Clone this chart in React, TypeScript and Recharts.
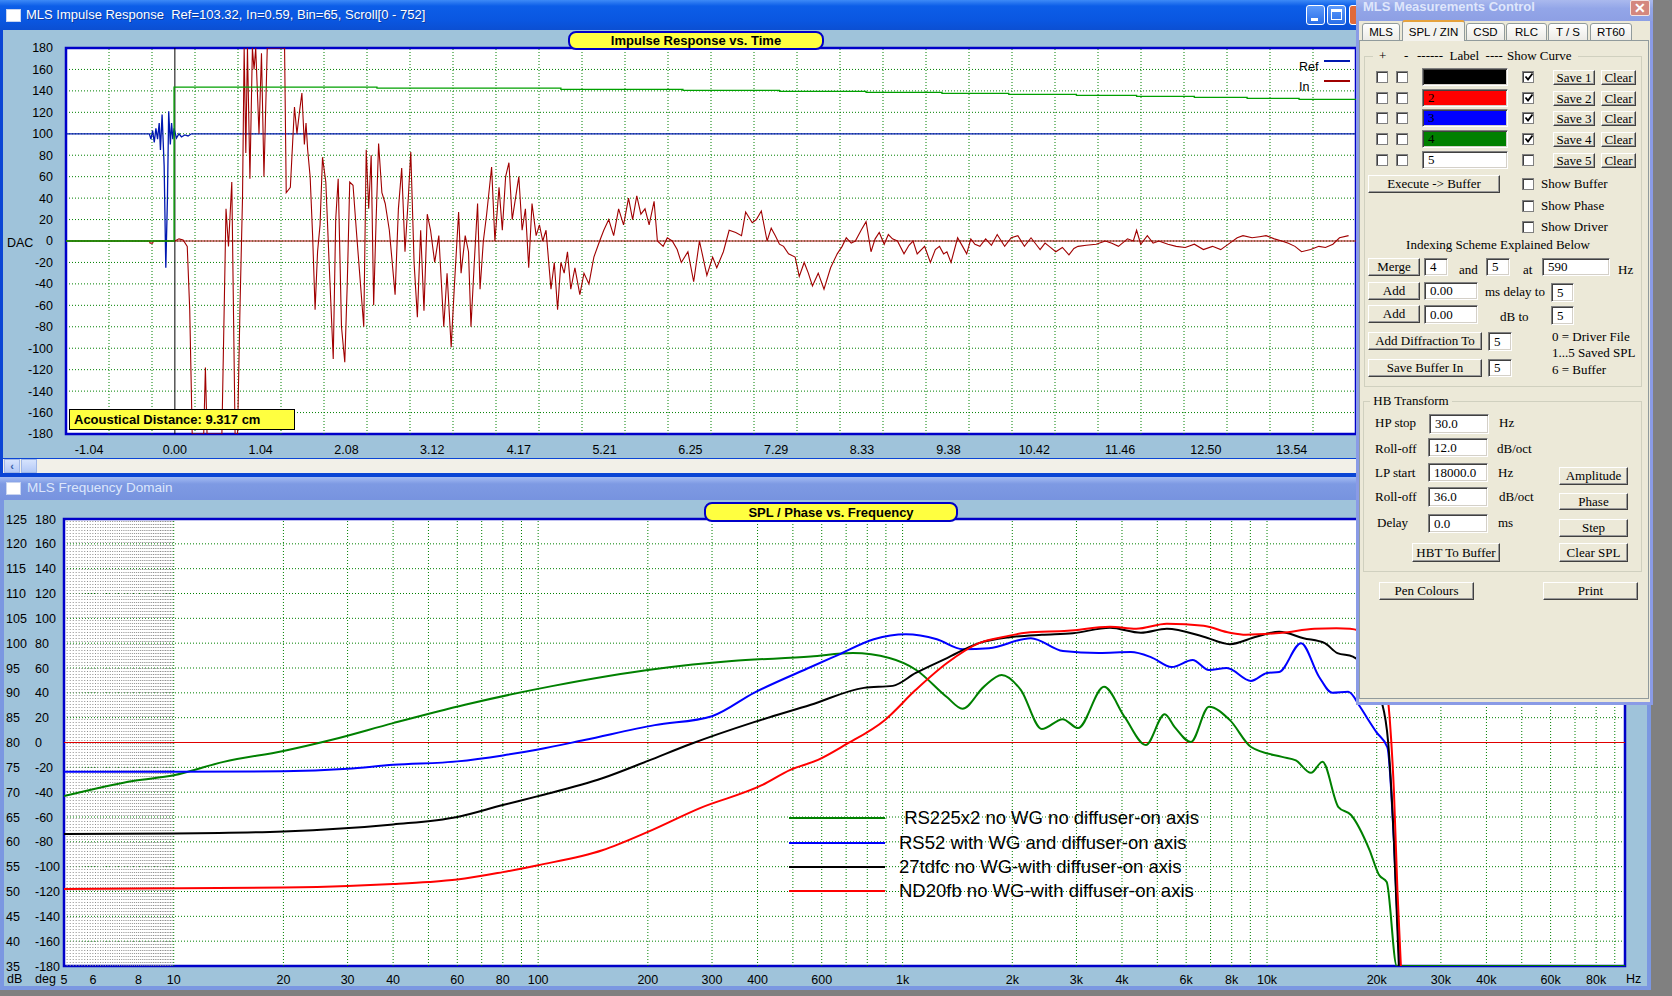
import React from 'react';
import { LineChart, Line, XAxis, YAxis, CartesianGrid, ReferenceLine, ReferenceArea, Legend } from 'recharts';

// ---------- impulse response window ----------
const timeTicks = [-1.04, 0, 1.04, 2.08, 3.12, 4.17, 5.21, 6.25, 7.29, 8.33, 9.38, 10.42, 11.46, 12.5, 13.54];
const dacTicks = [180, 160, 140, 120, 100, 80, 60, 40, 20, 0, -20, -40, -60, -80, -100, -120, -140, -160, -180];

// Ref trace (blue)
const refTrace = [
  [-1.32, 100], [-0.31, 100], [-0.29, 95], [-0.27, 103], [-0.25, 92], [-0.23, 105], [-0.21, 95], [-0.19, 110],
  [-0.175, 85], [-0.155, 118], [-0.13, 70], [-0.11, -25], [-0.09, 40], [-0.075, 121], [-0.055, 90], [-0.04, 110],
  [-0.025, 95], [-0.01, 105], [0.02, 96], [0.05, 100], [0.08, 97], [0.12, 99], [0.16, 98], [0.2, 100], [14.32, 100],
];

// step trace (green)
const stepTrace = [
  [-1.32, 0], [-0.01, 143.5], [2.45, 142.5], [4.68, 141.5], [6.16, 140.5], [7.33, 139.6], [8.38, 138.7], [9.3, 137.7],
  [10.11, 136.8], [10.93, 135.9], [11.66, 134.9], [12.36, 134.0], [13.0, 133.0], [13.63, 132.1], [14.32, 132.1],
];

// In trace (dark red)
const inTrace = [
  [-1.32, 0], [-0.31, 0], [-0.3, -2], [-0.27, -2], [-0.26, 0], [0.0, 0], [0.05, 2], [0.1, 1], [0.15, -5], [0.18, -64],
  [0.21, -180], [0.35, -180], [0.37, -118], [0.39, -180], [0.57, -180], [0.62, 30], [0.65, -5], [0.69, 55], [0.73, -180],
  [0.76, -180], [0.79, -60], [0.82, 40], [0.84, 180], [0.86, 82], [0.88, 180], [0.91, 58], [0.94, 180], [0.96, 160],
  [0.98, 180], [1.02, 100], [1.05, 175], [1.08, 60], [1.12, 180], [1.33, 180], [1.35, 45], [1.4, 50], [1.45, 125],
  [1.48, 100], [1.51, 120], [1.54, 138], [1.57, 90], [1.59, 110], [1.61, 85], [1.64, 60], [1.67, 5], [1.7, -64],
  [1.73, -10], [1.76, 15], [1.79, 78], [1.83, 55], [1.87, -20], [1.92, -110], [1.95, 20], [1.98, 58], [2.02, -80],
  [2.06, -113], [2.09, -40], [2.12, 55], [2.16, 52], [2.2, 10], [2.25, -40], [2.29, -80], [2.32, 85], [2.35, 30],
  [2.38, 80], [2.41, -60], [2.44, 20], [2.47, 91], [2.51, 45], [2.55, 35], [2.6, 10], [2.67, -50], [2.71, 30],
  [2.75, 68], [2.79, -10], [2.83, 40], [2.86, 83], [2.9, -20], [2.94, -71], [2.98, 10], [3.02, -65], [3.06, 25],
  [3.1, 10], [3.15, -20], [3.2, 5], [3.26, -80], [3.3, -30], [3.35, -99], [3.39, -40], [3.44, 27], [3.47, -30],
  [3.52, 5], [3.56, -10], [3.59, -80], [3.63, -20], [3.67, 35], [3.7, -45], [3.74, 0], [3.78, 25], [3.84, 69],
  [3.88, 0], [3.93, 50], [3.97, 10], [4.01, 60], [4.05, 73], [4.09, 20], [4.13, 40], [4.17, 60], [4.21, 10],
  [4.25, 30], [4.29, -25], [4.33, 35], [4.38, 5], [4.42, 15], [4.46, 0], [4.5, 10], [4.56, -45], [4.6, -20],
  [4.64, -64], [4.68, -20], [4.72, -30], [4.76, -10], [4.8, -45], [4.85, -25], [4.91, -50], [4.96, -30], [5.02, -40],
  [5.08, -15], [5.15, 0], [5.2, 10], [5.26, 20], [5.32, 5], [5.38, 30], [5.44, 15], [5.5, 40], [5.55, 20], [5.6, 42],
  [5.65, 25], [5.7, 30], [5.75, 15], [5.81, 37], [5.85, 0], [5.92, -5], [5.97, 3], [6.03, 0], [6.09, -8], [6.14, -20],
  [6.22, -10], [6.29, -38], [6.36, 0], [6.45, -32], [6.52, -15], [6.57, -25], [6.65, -10], [6.72, 10], [6.8, 8],
  [6.87, 5], [6.92, 27], [7.0, 17], [7.05, 20], [7.11, 28], [7.18, 0], [7.23, 12], [7.28, 5], [7.33, -3], [7.38, -5],
  [7.44, -12], [7.52, -15], [7.57, -33], [7.63, -20], [7.68, -30], [7.73, -42], [7.8, -30], [7.87, -45], [7.95, -25],
  [8.03, -12], [8.09, -5], [8.14, 3], [8.2, -2], [8.25, 0], [8.32, 10], [8.38, 18], [8.44, -10], [8.49, 2], [8.54, 8],
  [8.6, -3], [8.65, 6], [8.7, 2], [8.76, 0], [8.84, -12], [8.9, -4], [8.95, 0], [9.0, -12], [9.09, -5], [9.16, -20],
  [9.22, -8], [9.27, -5], [9.32, -12], [9.36, -10], [9.41, -20], [9.49, 3], [9.55, -5], [9.6, -12], [9.65, 2],
  [9.7, -3], [9.76, -5], [9.83, 2], [9.9, -4], [9.97, 6], [10.06, -5], [10.14, 3], [10.22, 5], [10.3, -5], [10.38, 3],
  [10.44, -3], [10.49, -8], [10.55, -2], [10.6, -5], [10.68, -10], [10.76, -6], [10.84, -13], [10.9, -7], [10.95, -5],
  [11.05, -4], [11.17, -3], [11.28, 0], [11.36, -2], [11.44, -5], [11.55, 2], [11.62, 0], [11.66, 10], [11.71, -3],
  [11.79, 5], [11.86, -2], [11.93, 0], [12.04, -3], [12.14, -5], [12.25, -6], [12.36, -3], [12.47, -8], [12.58, -5],
  [12.68, -8], [12.79, -2], [12.88, 3], [12.95, 5], [13.06, 3], [13.15, 4], [13.23, 5], [13.33, 2], [13.42, 0],
  [13.5, -2], [13.58, -5], [13.66, -10], [13.77, -8], [13.87, -5], [13.95, -6], [14.04, -3], [14.12, 3], [14.23, 5],
];

// ---------- frequency domain window ----------
const freqTicks = [5, 6, 8, 10, 20, 30, 40, 60, 80, 100, 200, 300, 400, 600, 1000, 2000, 3000, 4000, 6000, 8000, 10000, 20000, 30000, 40000, 60000, 80000];
const freqLabels = ['5', '6', '8', '10', '20', '30', '40', '60', '80', '100', '200', '300', '400', '600', '1k', '2k', '3k', '4k', '6k', '8k', '10k', '20k', '30k', '40k', '60k', '80k'];
const dbTicks = [125, 120, 115, 110, 105, 100, 95, 90, 85, 80, 75, 70, 65, 60, 55, 50, 45, 40, 35];
const degLabels = ['180', '160', '140', '120', '100', '80', '60', '40', '20', '0', '-20', '-40', '-60', '-80', '-100', '-120', '-140', '-160', '-180'];
const seriesNames = [' RS225x2 no WG no diffuser-on axis', 'RS52 with WG and diffuser-on axis', '27tdfc no WG-with diffuser-on axis', 'ND20fb no WG-with diffuser-on axis'];

const rs225 = [
  [5, 69.2], [7.8, 72.3], [10, 73.4], [13.7, 76.1], [20, 78.3], [27, 80.5], [40, 83.9], [63, 87.6], [110, 91.4],
  [210, 94.8], [340, 96.4], [560, 97.3], [730, 98.0], [920, 97.0], [1090, 94.6], [1320, 89.2], [1460, 86.8],
  [1670, 91.2], [1870, 93.6], [2110, 90.6], [2410, 82.7], [2750, 84.7], [3030, 82.9], [3570, 91.2], [4070, 85.1],
  [4650, 79.5], [5240, 85.7], [5580, 83.1], [6180, 80.1], [6930, 87.2], [7910, 84.5], [9040, 79.1], [11000, 77.1],
  [12000, 76.4], [13200, 73.9], [14200, 76.1], [15700, 67], [17000, 65.4], [19100, 58.4], [20300, 53.3],
  [21300, 51.9], [22700, 35], [96000, 35],
];
const rs52 = [
  [5, 74.1], [10, 74.1], [20, 74.2], [30, 74.7], [40, 75.5], [60, 76.2], [80, 77.4], [100, 78.6], [134, 80.5],
  [209, 83.5], [300, 85.3], [391, 90], [560, 95.2], [664, 97.6], [834, 100.8], [1021, 101.8], [1242, 100.8],
  [1463, 98.8], [1726, 99], [2249, 101], [2754, 98.4], [3459, 98], [4230, 98.2], [4800, 97.2], [5480, 95.2],
  [6250, 96.6], [6925, 94.6], [7760, 95], [9036, 92.4], [10000, 94], [10800, 94.2], [12400, 100], [13900, 93.2],
  [15100, 90], [16700, 90.2], [18000, 87.2], [18800, 85], [20000, 82], [21400, 79], [22300, 60], [23100, 35],
];
const tdfc27 = [
  [5, 61.6], [10, 61.7], [20, 62.1], [40, 63.5], [60, 65], [80, 67.4], [100, 69.2], [150, 72.8], [200, 76.3],
  [262, 79.7], [391, 84.1], [560, 87.6], [783, 91.0], [940, 91.4], [1087, 94], [1324, 97], [1620, 100],
  [1968, 101.2], [2412, 101.7], [2931, 102], [3707, 103.1], [4508, 102.1], [5309, 102.9], [6699, 101.3],
  [7907, 99.8], [9335, 101.3], [10800, 102.3], [12600, 101], [14400, 100], [15600, 98], [17200, 97.3],
  [18500, 95.5], [19500, 93], [20500, 89], [21500, 80], [22300, 60], [23000, 35],
];
const nd20fb = [
  [5, 50.5], [20, 50.8], [30, 51.1], [40, 51.5], [50, 51.9], [60, 52.4], [80, 53.9], [100, 55.3], [150, 58.3],
  [200, 62], [278, 66.8], [411, 71.4], [492, 74.5], [586, 76.5], [695, 79.5], [893, 84.5], [1087, 90.6],
  [1324, 96], [1620, 100], [1905, 101.3], [2178, 102.1], [2838, 102.5], [3707, 103.3], [4376, 102.9],
  [5309, 103.9], [6699, 103.5], [7907, 102.1], [8750, 101.7], [11000, 102.1], [13500, 102.9], [15500, 103],
  [16900, 102.9], [18700, 101.7], [19800, 99], [20800, 95], [21700, 85], [22300, 70], [22800, 50], [23300, 35],
];

const T_DOMAIN = [-1.32, 14.32];
const F_DOMAIN = [5, 96000];

const pts = (a: number[][]) => a.map(([x, y]) => ({ x, y }));

const timeGrid = Array.from({ length: 29 }, (_, i) => T_DOMAIN[0] + ((i + 1) * (T_DOMAIN[1] - T_DOMAIN[0])) / 30);
const decadeGrid: number[] = [];
for (let d = 10; d < F_DOMAIN[1]; d *= 10) {
  for (let m = 1; m <= 9; m++) if (d * m < F_DOMAIN[1]) decadeGrid.push(d * m);
}
const fineGrid = Array.from({ length: 49 }, (_, i) => (51 + i) / 10);

const SANS = "'Liberation Sans', Arial, sans-serif";
const NARROW = "'Liberation Sans Narrow', 'Liberation Sans', Arial, sans-serif";
const SERIF = "'Liberation Serif', 'Times New Roman', serif";
const CLIENT = '#9fc3da';
const GRID = '#008000';
const PLOT_BORDER = '#0000c8';

const TopLegend = (props: any) => {
  const list = props.payload || [];
  const items = ['Ref', 'In'].map((n) => list.find((p: any) => p.value === n)).filter(Boolean);
  return (
    <div style={{ width: 52 }}>
      {items.map((p: any) => (
        <div key={p.value} style={{ position: 'relative', height: 20, lineHeight: '20px', fontFamily: NARROW, fontSize: 12.5, color: '#000' }}>
          {p.value}
          <div style={{ position: 'absolute', left: 25, top: 3, width: 26, height: 1.5, background: p.color }} />
        </div>
      ))}
    </div>
  );
};

const SplLegend = (props: any) => {
  const list = props.payload || [];
  const items = seriesNames.map((n) => list.find((p: any) => p.value === n)).filter(Boolean);
  return (
    <div>
      {items.map((p: any) => (
        <div key={p.value} style={{ display: 'flex', alignItems: 'center', height: 24.4 }}>
          <div style={{ width: 96, height: 2, background: p.color }} />
          <div style={{ marginLeft: 14, fontFamily: SANS, fontSize: 18.5, whiteSpace: 'pre', color: '#000', lineHeight: '22px' }}>{p.value}</div>
        </div>
      ))}
    </div>
  );
};

const SplTick = (props: any) => {
  const { x, y, payload } = props;
  const i = dbTicks.indexOf(payload.value);
  return (
    <g fontFamily={NARROW} fontSize={12.5} fill="#000">
      <text x={x - 58} y={y} dy={4.5} textAnchor="start">{payload.value}</text>
      <text x={x - 29} y={y} dy={4.5} textAnchor="start">{degLabels[i]}</text>
    </g>
  );
};

// ---------- small UI pieces ----------
const abs = (x: number, y: number, w?: number, h?: number): React.CSSProperties => ({ position: 'absolute', left: x, top: y, width: w, height: h, boxSizing: 'border-box' });

const Btn = ({ x, y, w, h, children }: any) => (
  <div style={{ ...abs(x, y, w, h), background: '#ece9d8', borderTop: '1px solid #fff', borderLeft: '1px solid #fff', borderRight: '1px solid #404040', borderBottom: '1px solid #404040', boxShadow: 'inset -1px -1px 0 #9a9a9a', display: 'flex', alignItems: 'center', justifyContent: 'center', fontFamily: SERIF, fontSize: 13, color: '#000', whiteSpace: 'pre' }}>{children}</div>
);
const Inp = ({ x, y, w, h, children, bg = '#fff' }: any) => (
  <div style={{ ...abs(x, y, w, h), background: bg, borderTop: '1px solid #808080', borderLeft: '1px solid #808080', borderRight: '1px solid #fff', borderBottom: '1px solid #fff', boxShadow: 'inset 1px 1px 0 #404040, inset -1px -1px 0 #d4d0c8', paddingLeft: 5, display: 'flex', alignItems: 'center', fontFamily: SERIF, fontSize: 13, color: '#000' }}>{children}</div>
);
const Chk = ({ x, y, on }: any) => (
  <div style={{ ...abs(x, y, 12, 12), background: '#fff', border: '1px solid #808080', boxShadow: 'inset 1px 1px 0 #404040' }}>
    {on && (
      <svg width={10} height={10} style={{ position: 'absolute', left: 1, top: 0 }}>
        <polyline points="1.5,4.5 4,7.5 8.5,1.5" fill="none" stroke="#000" strokeWidth={1.8} />
      </svg>
    )}
  </div>
);
const Txt = ({ x, y, children, center, bg }: any) => (
  <div style={{ position: 'absolute', left: x, top: y - 8, lineHeight: '16px', fontFamily: SERIF, fontSize: 13, color: '#000', whiteSpace: 'pre', transform: center ? 'translateX(-50%)' : undefined, background: bg }}>{children}</div>
);

const swatches = [
  { bg: '#000000', label: '' },
  { bg: '#ff0000', label: '2' },
  { bg: '#0000ff', label: '3' },
  { bg: '#008000', label: '4' },
  { bg: '#ffffff', label: '5' },
];
const rowY = [77, 98, 118, 139, 160];
const tabs = [
  { label: 'MLS', x1: 6, x2: 44 },
  { label: 'SPL / ZIN', x1: 46, x2: 109, active: true },
  { label: 'CSD', x1: 110, x2: 149 },
  { label: 'RLC', x1: 150, x2: 191 },
  { label: 'T / S', x1: 192, x2: 232 },
  { label: 'RT60', x1: 234, x2: 276 },
];

const ControlPanel = () => (
  <div style={{ ...abs(1356, 0, 297, 705), background: '#8a9be6' }}>
    {/* title bar */}
    <div style={{ ...abs(0, 0, 297, 21), background: 'linear-gradient(#aab9ee, #93a6e8 40%, #8d9fe4)' }} />
    <div style={{ position: 'absolute', left: 7, top: -2, lineHeight: '18px', fontFamily: SANS, fontWeight: 'bold', fontSize: 13, color: '#dfe6fb', whiteSpace: 'pre' }}>MLS Measurements Control</div>
    <div style={{ ...abs(274, 0, 20, 16), background: '#d4877e', border: '1px solid #f3e4e2', borderRadius: 2, color: '#fff', fontFamily: SANS, fontWeight: 'bold', fontSize: 14, lineHeight: '14px', textAlign: 'center' }}>✕</div>
    {/* body */}
    <div style={{ ...abs(3, 21, 291, 681), background: '#ece9d8' }} />
    {/* tab page */}
    <div style={{ ...abs(3, 40, 290, 659), border: '1px solid #919b9c', background: '#ece9d8' }} />
    {tabs.map((t) => (
      <div key={t.label} style={{ ...abs(t.x1, t.active ? 20 : 23, t.x2 - t.x1, t.active ? 21 : 18), border: '1px solid #919b9c', borderBottom: t.active ? 'none' : '1px solid #919b9c', borderTop: t.active ? '2px solid #e6a23c' : '1px solid #919b9c', borderRadius: '3px 3px 0 0', background: t.active ? '#f4f3ee' : 'linear-gradient(#fff, #ecebe6)', fontFamily: SANS, fontSize: 11.5, color: '#000', display: 'flex', alignItems: 'center', justifyContent: 'center', whiteSpace: 'pre' }}>{t.label}</div>
    ))}
    {/* group 1 */}
    <div style={{ ...abs(8, 56, 278, 331), border: '1px solid #d0d0bf' }} />
    <div style={{ ...abs(17, 48, 205, 16), background: '#ece9d8' }} />
    <Txt x={23} y={56}>+</Txt>
    <Txt x={48} y={56}>-</Txt>
    <Txt x={61} y={56}>------  Label  ----</Txt>
    <Txt x={151} y={56}>Show Curve</Txt>
    {swatches.map((s, i) => (
      <React.Fragment key={i}>
        <Chk x={20} y={rowY[i] - 6} />
        <Chk x={40} y={rowY[i] - 6} />
        <Inp x={66} y={rowY[i] - 9} w={86} h={18} bg={s.bg}>{s.label}</Inp>
        <Chk x={166} y={rowY[i] - 6} on={i < 4} />
        <Btn x={197} y={rowY[i] - 7} w={42} h={15}>{`Save ${i + 1}`}</Btn>
        <Btn x={245} y={rowY[i] - 7} w={35} h={15}>Clear</Btn>
      </React.Fragment>
    ))}
    <Btn x={12} y={175} w={132} h={18}>{'Execute -> Buffer'}</Btn>
    <Chk x={166} y={178} />
    <Txt x={185} y={184}>Show Buffer</Txt>
    <Chk x={166} y={200} />
    <Txt x={185} y={206}>Show Phase</Txt>
    <Chk x={166} y={221} />
    <Txt x={185} y={227}>Show Driver</Txt>
    <Txt x={142} y={245} center>Indexing Scheme Explained Below</Txt>
    <Btn x={12} y={258} w={52} h={18}>Merge</Btn>
    <Inp x={68} y={258} w={24} h={18}>4</Inp>
    <Txt x={103} y={270}>and</Txt>
    <Inp x={130} y={258} w={24} h={18}>5</Inp>
    <Txt x={167} y={270}>at</Txt>
    <Inp x={186} y={258} w={68} h={18}>590</Inp>
    <Txt x={262} y={270}>Hz</Txt>
    <Btn x={12} y={282} w={52} h={18}>Add</Btn>
    <Inp x={68} y={282} w={54} h={18}>0.00</Inp>
    <Txt x={129} y={292}>ms delay to</Txt>
    <Inp x={195} y={283} w={23} h={19}>5</Inp>
    <Btn x={12} y={305} w={52} h={18}>Add</Btn>
    <Inp x={68} y={305} w={54} h={19}>0.00</Inp>
    <Txt x={144} y={317}>dB to</Txt>
    <Inp x={195} y={306} w={23} h={19}>5</Inp>
    <Btn x={12} y={332} w={114} h={18}>Add Diffraction To</Btn>
    <Inp x={132} y={332} w={24} h={19}>5</Inp>
    <Btn x={12} y={359} w={114} h={18}>Save Buffer In</Btn>
    <Inp x={132} y={359} w={24} h={18}>5</Inp>
    <Txt x={196} y={337}>0 = Driver File</Txt>
    <Txt x={196} y={353}>1...5 Saved SPL</Txt>
    <Txt x={196} y={370}>6 = Buffer</Txt>
    {/* group 2 */}
    <div style={{ ...abs(7, 401, 279, 171), border: '1px solid #d0d0bf' }} />
    <Txt x={14} y={401} bg="#ece9d8">{' HB Transform '}</Txt>
    <Txt x={19} y={423}>HP stop</Txt>
    <Inp x={73} y={414} w={60} h={20}>30.0</Inp>
    <Txt x={143} y={423}>Hz</Txt>
    <Txt x={19} y={449}>Roll-off</Txt>
    <Inp x={72} y={438} w={60} h={19}>12.0</Inp>
    <Txt x={141} y={449}>dB/oct</Txt>
    <Txt x={19} y={473}>LP start</Txt>
    <Inp x={72} y={463} w={60} h={19}>18000.0</Inp>
    <Txt x={142} y={473}>Hz</Txt>
    <Txt x={19} y={497}>Roll-off</Txt>
    <Inp x={72} y={487} w={60} h={20}>36.0</Inp>
    <Txt x={143} y={497}>dB/oct</Txt>
    <Txt x={21} y={523}>Delay</Txt>
    <Inp x={72} y={514} w={60} h={19}>0.0</Inp>
    <Txt x={142} y={523}>ms</Txt>
    <Btn x={203} y={467} w={69} h={18}>Amplitude</Btn>
    <Btn x={203} y={493} w={69} h={17}>Phase</Btn>
    <Btn x={203} y={519} w={69} h={18}>Step</Btn>
    <Btn x={56} y={543} w={88} h={19}>HBT To Buffer</Btn>
    <Btn x={203} y={543} w={69} h={19}>Clear SPL</Btn>
    <Btn x={23} y={582} w={95} h={18}>Pen Colours</Btn>
    <Btn x={187} y={582} w={95} h={18}>Print</Btn>
  </div>
);

const WinIcon = ({ x, y }: any) => (
  <div style={{ ...abs(x, y, 15, 13), background: '#fff', borderTop: '3px solid #2a56c8', border: '1px solid #c8d4f0' }} />
);

export default function App() {
  return (
    <div style={{ position: 'fixed', left: 0, top: 0, width: 1672, height: 996, background: '#808080', overflow: 'hidden', fontFamily: SANS }}>
      {/* ===== top window ===== */}
      <div style={{ ...abs(0, 0, 1360, 478), background: '#0a45d5' }} />
      <div style={{ ...abs(0, 0, 1360, 30), background: 'linear-gradient(#3d8af7, #0c5ee8 20%, #0a56e0 70%, #0b4fd2)' }} />
      <WinIcon x={6} y={9} />
      <div style={{ position: 'absolute', left: 26, top: 6, lineHeight: '18px', fontSize: 13, color: '#fff', whiteSpace: 'pre', textShadow: '1px 1px 0 #0a3aa0' }}>MLS Impulse Response  Ref=103.32, In=0.59, Bin=65, Scroll[0 - 752]</div>
      <div style={{ ...abs(1306, 5, 19, 20), background: 'linear-gradient(#5d9bfb, #2a6ee8)', border: '1px solid #fff', borderRadius: 3 }}>
        <div style={{ ...abs(4, 12, 7, 3), background: '#fff' }} />
      </div>
      <div style={{ ...abs(1327, 5, 19, 20), background: 'linear-gradient(#5d9bfb, #2a6ee8)', border: '1px solid #fff', borderRadius: 3 }}>
        <div style={{ ...abs(3, 3, 11, 11), border: '1px solid #fff', borderTop: '3px solid #fff' }} />
      </div>
      <div style={{ ...abs(1349, 5, 10, 20), background: '#e06a3a', border: '1px solid #fff', borderRadius: 3 }} />
      <div style={{ ...abs(3, 30, 1354, 428), background: CLIENT }} />
      <div style={{ position: 'absolute', left: 7, top: 235, lineHeight: '16px', fontFamily: NARROW, fontSize: 12.5, color: '#000' }}>DAC</div>
      <div style={{ position: 'absolute', left: 0, top: 30 }}>
        <LineChart width={1360} height={428} margin={{ top: 18, right: 4, bottom: 0, left: 0 }}>
          <CartesianGrid vertical={false} fill="#fff" stroke={GRID} strokeDasharray="1 2" />
          {timeGrid.map((v) => (
            <ReferenceLine key={'tg' + v} x={v} stroke={GRID} strokeDasharray="1 2" />
          ))}
          <XAxis type="number" dataKey="x" domain={T_DOMAIN} allowDataOverflow ticks={timeTicks} interval={0}
            tickFormatter={(v: number) => v.toFixed(2)} axisLine={false} tickLine={false} tickSize={0} tickMargin={11} height={24}
            tick={{ fill: '#000', fontSize: 12.5, fontFamily: NARROW }} />
          <YAxis type="number" domain={[-180, 180]} allowDataOverflow ticks={dacTicks} interval={0} width={66}
            axisLine={false} tickLine={false} tickSize={0} tickMargin={13}
            tick={{ fill: '#000', fontSize: 12.5, fontFamily: NARROW }} />
          <ReferenceLine y={0} stroke="#a00000" strokeWidth={1.2} />
          <ReferenceLine x={0} stroke="#000" strokeWidth={1} />
          <Line data={pts(refTrace)} dataKey="y" name="Ref" stroke="#0018b0" strokeWidth={1.3} dot={false} isAnimationActive={false} />
          <Line data={pts(inTrace)} dataKey="y" name="In" stroke="#a00000" strokeWidth={1.1} dot={false} isAnimationActive={false} />
          <Line data={pts(stepTrace)} dataKey="y" name="step" type="stepAfter" stroke="#00a000" strokeWidth={1.3} dot={false} legendType="none" isAnimationActive={false} />
          <ReferenceArea x1={T_DOMAIN[0]} x2={T_DOMAIN[1]} y1={-180} y2={180} fill="none" stroke={PLOT_BORDER} strokeWidth={2.5} />
          <Legend layout="vertical" align="center" verticalAlign="middle" content={<TopLegend />}
            wrapperStyle={{ position: 'absolute', left: 1299, top: 27, width: 56, height: 42 }} />
        </LineChart>
      </div>
      {/* yellow labels */}
      <div style={{ ...abs(568, 31, 256, 19), background: '#ffff40', border: `2px solid ${PLOT_BORDER}`, borderRadius: 8, fontWeight: 'bold', fontSize: 13, display: 'flex', alignItems: 'center', justifyContent: 'center', color: '#000' }}>Impulse Response vs. Time</div>
      <div style={{ ...abs(69, 409, 226, 21), background: '#ffff40', border: '1px solid #000', fontWeight: 'bold', fontSize: 13, lineHeight: '19px', paddingLeft: 4, color: '#000', whiteSpace: 'pre' }}>Acoustical Distance: 9.317 cm</div>
      {/* scroll bar */}
      <div style={{ ...abs(3, 459, 1354, 14), background: '#f2f0e8' }} />
      <div style={{ ...abs(4, 459, 16, 14), background: 'linear-gradient(#d6e3fd, #b4c9f6)', border: '1px solid #9fb6e6', color: '#3a5ca8', fontSize: 11, lineHeight: '12px', textAlign: 'center', fontWeight: 'bold' }}>‹</div>
      <div style={{ ...abs(21, 459, 16, 14), background: 'linear-gradient(#d6e3fd, #b4c9f6)', border: '1px solid #9fb6e6' }} />

      {/* ===== bottom window ===== */}
      <div style={{ ...abs(0, 477, 1651, 513), background: '#7b97e1' }} />
      <div style={{ ...abs(0, 477, 1651, 23), background: 'linear-gradient(#a3bbf3, #7e9ae3 30%, #7793df)' }} />
      <WinIcon x={6} y={482} />
      <div style={{ position: 'absolute', left: 27, top: 479, lineHeight: '18px', fontSize: 13.5, color: '#dce6fb', whiteSpace: 'pre' }}>MLS Frequency Domain</div>
      <div style={{ ...abs(4, 500, 1643, 486), background: CLIENT }} />
      <div style={{ position: 'absolute', left: 0, top: 499 }}>
        <LineChart width={1651} height={487} margin={{ top: 20, right: 26, bottom: 0, left: 0 }}>
          <CartesianGrid vertical={false} fill="#fff" stroke={GRID} strokeDasharray="1 2" />
          {fineGrid.map((v) => (
            <ReferenceLine key={'fg' + v} x={v} stroke="#8c8c8c" strokeDasharray="1 2" />
          ))}
          {decadeGrid.map((v) => (
            <ReferenceLine key={'dg' + v} x={v} stroke={GRID} strokeDasharray="1 2" />
          ))}
          <XAxis type="number" dataKey="x" scale="log" domain={F_DOMAIN} allowDataOverflow ticks={freqTicks} interval={0}
            tickFormatter={(v: number) => freqLabels[freqTicks.indexOf(v)] ?? String(v)} axisLine={false} tickLine={false}
            tickSize={0} tickMargin={9} height={20} tick={{ fill: '#000', fontSize: 12.5, fontFamily: NARROW }} />
          <YAxis type="number" domain={[35, 125]} allowDataOverflow ticks={dbTicks} interval={0} width={64}
            axisLine={false} tickLine={false} tickSize={0} tickMargin={0} tick={<SplTick />} />
          <ReferenceLine y={80} stroke="#e00000" strokeWidth={1.2} />
          <Line data={pts(rs225)} dataKey="y" name={seriesNames[0]} type="monotone" stroke="#008000" strokeWidth={2} dot={false} isAnimationActive={false} />
          <Line data={pts(rs52)} dataKey="y" name={seriesNames[1]} type="monotone" stroke="#0000ff" strokeWidth={2} dot={false} isAnimationActive={false} />
          <Line data={pts(tdfc27)} dataKey="y" name={seriesNames[2]} type="monotone" stroke="#000000" strokeWidth={2} dot={false} isAnimationActive={false} />
          <Line data={pts(nd20fb)} dataKey="y" name={seriesNames[3]} type="monotone" stroke="#ff0000" strokeWidth={2} dot={false} isAnimationActive={false} />
          <ReferenceArea x1={F_DOMAIN[0]} x2={F_DOMAIN[1]} y1={35} y2={125} fill="none" stroke={PLOT_BORDER} strokeWidth={2.5} />
          <Legend layout="vertical" align="center" verticalAlign="middle" content={<SplLegend />}
            wrapperStyle={{ position: 'absolute', left: 789, top: 307, width: 420, height: 100 }} />
        </LineChart>
      </div>
      <div style={{ ...abs(704, 502, 254, 20), background: '#ffff40', border: `2px solid ${PLOT_BORDER}`, borderRadius: 8, fontWeight: 'bold', fontSize: 13, display: 'flex', alignItems: 'center', justifyContent: 'center', color: '#000' }}>SPL / Phase vs. Frequency</div>
      <div style={{ position: 'absolute', left: 7, top: 971, lineHeight: '16px', fontFamily: NARROW, fontSize: 12.5, color: '#000' }}>dB</div>
      <div style={{ position: 'absolute', left: 35, top: 971, lineHeight: '16px', fontFamily: NARROW, fontSize: 12.5, color: '#000' }}>deg</div>
      <div style={{ position: 'absolute', left: 1626, top: 971, lineHeight: '16px', fontFamily: NARROW, fontSize: 12.5, color: '#000' }}>Hz</div>

      {/* ===== control panel ===== */}
      <ControlPanel />
    </div>
  );
}
